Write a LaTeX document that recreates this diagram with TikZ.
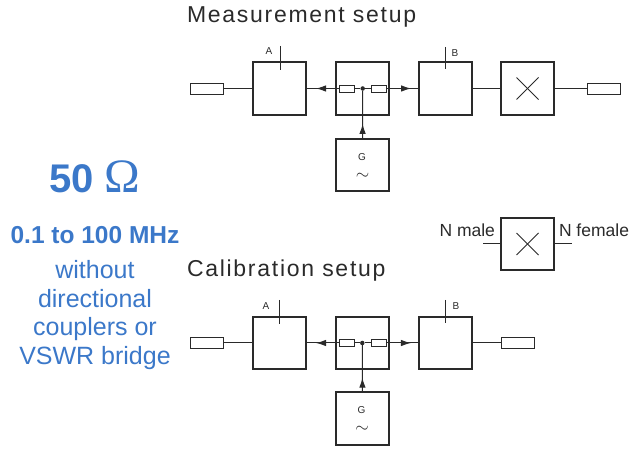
\documentclass[tikz,border=0pt]{standalone}
\usepackage{fontspec}
\setmainfont{Liberation Sans}
\newfontfamily\titlefont[LetterSpace=7.5]{Liberation Sans}
\newfontfamily\ohmfont{Liberation Serif}
\usepackage{xcolor}
\usetikzlibrary{positioning,arrows.meta,decorations.markings}
\definecolor{ink}{HTML}{2A2A2A}
\definecolor{blueText}{HTML}{3B78C9}

\begin{document}
\begin{tikzpicture}[
  x=1pt, y=1pt,
  every node/.style={inner sep=0pt, outer sep=0pt, text=ink},
  box/.style={rectangle, draw=ink, line width=2.4pt, fill=white, minimum width=52.5pt, minimum height=52.5pt},
  load/.style={rectangle, draw=ink, line width=0.9pt, fill=white, minimum width=33pt, minimum height=11pt},
  res/.style={rectangle, draw=ink, line width=0.9pt, fill=white, minimum width=15pt, minimum height=7pt},
  dot/.style={circle, fill=ink, minimum size=4.5pt},
  wire/.style={draw=ink, line width=1pt},
  headat/.style={postaction={decorate}, decoration={markings, mark=at position #1 with {\arrow{Latex[length=10pt,width=6.5pt]}}}},
  setup/.style={font=\titlefont\fontsize{23}{26}\selectfont, anchor=base west},
  tag/.style={font=\fontsize{10}{12}\selectfont},
  wave/.style={font=\fontsize{18}{18}\selectfont},
  side/.style={font=\fontsize{17.5}{20}\selectfont},
  bluetext/.style={text=blueText, align=center},
]
\useasboundingbox (0,0) rectangle (635,453);

% -- Row heights --
\def\yTop{364.5}
\def\yTopG{288}
\def\yBot{110}
\def\yBotG{34.5}

% -- Left hand text --
\node[bluetext, font=\fontsize{40}{44}\selectfont\bfseries] (ohm) at (95,276) {50 {\ohmfont\mdseries\fontsize{48}{44}\selectfont Ω}};
\node[bluetext, font=\fontsize{24.5}{28}\selectfont\bfseries] (band) at (95,218) {0.1 to 100 MHz};
\node[bluetext, font=\fontsize{25}{28.5}\selectfont] (note) at (95,138) {without\\directional\\couplers or\\VSWR bridge};

% -- Measurement setup --
\node[setup] (mTitle) at (187,430) {Measurement setup};
\node[box] (mA) at (279.5,\yTop) {};
\node[box, right=30.5pt of mA] (mC) {};
\node[box, right=30.5pt of mC] (mB) {};
\node[box, right=29.5pt of mB] (mX) {};
\node[box] (mG) at (mC |- 0,\yTopG) {};
\node[load] (mL) at (206.5,\yTop) {};
\node[load] (mR) at (604,\yTop) {};
\node[res] (mRa) at (346.5,\yTop) {};
\node[res] (mRb) at (379,\yTop) {};
\node[dot] (mDot) at (362.7,\yTop) {};
\node[tag] (mTagA) at (269,402) {A};
\node[tag] (mTagB) at (455,400) {B};
\coordinate (mAtop) at (280,407);
\coordinate (mAend) at (280,383);
\coordinate (mBtop) at (445,406);
\coordinate (mBend) at (445,384);
\node[tag] (mGl) at (362,296) {G};
\node[wave] (mGs) at (362.5,276.5) {$\sim$};

\draw[wire] (mL) -- (mA);
\draw[wire, headat=0.69] (mRa) -- (mA);
\draw[wire] (mRa) -- (mDot);
\draw[wire] (mDot) -- (mRb);
\draw[wire, headat=0.75] (mRb) -- (mB);
\draw[wire] (mB) -- (mX);
\draw[wire] (mX) -- (mR);
\draw[wire, headat=0.31] (mG) -- (mDot);
\draw[wire] (mAtop) -- (mAend);
\draw[wire] (mBtop) -- (mBend);

% -- Adapter with its connectors --
\node[box] (aX) at (527.5,209) {};
\coordinate (aMale) at (483,209);
\coordinate (aFemale) at (572,209);
\draw[wire] (aMale) -- (aX);
\draw[wire] (aX) -- (aFemale);
\node[side, anchor=base east] (aMl) at (495,216) {N male};
\node[side, anchor=base west] (aFl) at (559,216) {N female};

% -- Calibration setup --
\node[setup] (cTitle) at (187,176) {Calibration setup};
\node[box] (cA) at (279.5,\yBot) {};
\node[box, right=30.5pt of cA] (cC) {};
\node[box, right=30.5pt of cC] (cB) {};
\node[box] (cG) at (cC |- 0,\yBotG) {};
\node[load] (cL) at (206.5,\yBot) {};
\node[load] (cR) at (518,\yBot) {};
\node[res] (cRa) at (346.5,\yBot) {};
\node[res] (cRb) at (378.5,\yBot) {};
\node[dot] (cDot) at (362.3,\yBot) {};
\node[tag] (cTagA) at (266,146.5) {A};
\node[tag] (cTagB) at (456,147) {B};
\coordinate (cAtop) at (279,153);
\coordinate (cAend) at (279,129);
\coordinate (cBtop) at (445,153);
\coordinate (cBend) at (445,130);
\node[tag] (cGl) at (361.5,43) {G};
\node[wave] (cGs) at (362,23.5) {$\sim$};

\draw[wire] (cL) -- (cA);
\draw[wire, headat=0.69] (cRa) -- (cA);
\draw[wire] (cRa) -- (cDot);
\draw[wire] (cDot) -- (cRb);
\draw[wire, headat=0.75] (cRb) -- (cB);
\draw[wire] (cB) -- (cR);
\draw[wire, headat=0.31] (cG) -- (cDot);
\draw[wire] (cAtop) -- (cAend);
\draw[wire] (cBtop) -- (cBend);

% -- Crosses inside the switch boxes --
\foreach \cross in {mX, aX} {
  \draw[wire] ([shift={(-11pt,-11pt)}]\cross.center) -- ([shift={(11pt,11pt)}]\cross.center);
  \draw[wire] ([shift={(-11pt,11pt)}]\cross.center) -- ([shift={(11pt,-11pt)}]\cross.center);
}

\end{tikzpicture}
\end{document}
